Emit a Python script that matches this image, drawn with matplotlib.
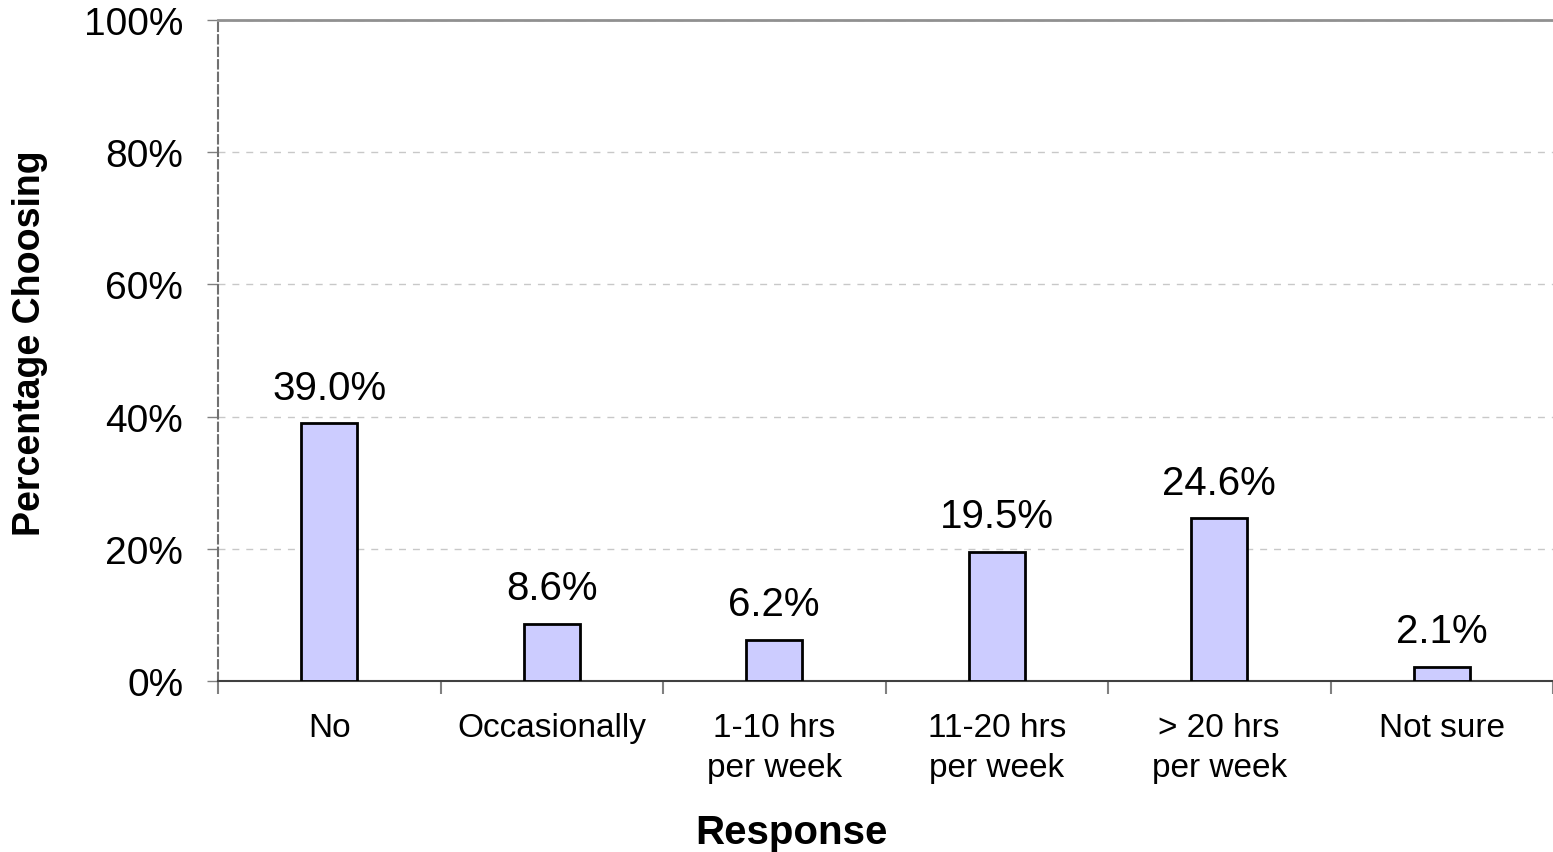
import matplotlib
matplotlib.use("Agg")
import matplotlib.pyplot as plt
import numpy as np

plt.rcParams['font.family'] = ['Liberation Sans', 'DejaVu Sans']

# data
categories = ['No', 'Occasionally', '1-10 hrs\nper week', '11-20 hrs\nper week',
              '> 20 hrs\nper week', 'Not sure']
values = [39.0, 8.6, 6.2, 19.5, 24.6, 2.1]
yticks = [0, 20, 40, 60, 80, 100]

fig = plt.figure(figsize=(15.53, 8.53), dpi=100)
ax = fig.add_axes([218 / 1553, 171 / 853, 1 - 218 / 1553, 661 / 853])

x = np.arange(len(categories))
ax.bar(x, values, width=0.25, color='#ccccff', edgecolor='black', linewidth=2, zorder=3)

for xi, v in zip(x, values):
    ax.annotate(f'{v:.1f}%', (xi, v), xytext=(0, 12), textcoords='offset points',
                ha='center', va='bottom', fontsize=29)

ax.set_xlim(-0.5, len(categories) - 0.5)
ax.set_ylim(0, 100)
ax.set_yticks(yticks)
ax.set_yticklabels([f'{t}%' for t in yticks], fontsize=28)
ax.yaxis.grid(True, linestyle=(0, (5, 5)), color='#c8c8c8', linewidth=1, zorder=0)

# category labels centred, ticks on the boundaries
ax.set_xticks(x)
ax.set_xticklabels(categories, fontsize=24, linespacing=1.4)
ax.tick_params(axis='x', length=0, pad=22)
ax.set_xticks(np.arange(len(categories) + 1) - 0.5, minor=True)
ax.tick_params(axis='x', which='minor', length=9, width=1.5, color='#808080')
ax.tick_params(axis='y', length=8, width=1, color='#808080', pad=17)

ax.spines['right'].set_visible(False)
ax.spines['top'].set_color('#909090')
ax.spines['top'].set_linewidth(2)
ax.spines['left'].set_color('#707070')
ax.spines['left'].set_linestyle((0, (4, 2)))
ax.spines['left'].set_linewidth(1.5)
ax.spines['bottom'].set_color('#404040')
ax.spines['bottom'].set_linewidth(1.5)

ax.set_xlabel('Response', fontsize=29, fontweight='bold')
ax.xaxis.set_label_coords((791 - 218) / (1553 - 218), -0.2, transform=ax.transAxes)
ax.set_ylabel('Percentage Choosing', fontsize=27, fontweight='bold')
ax.yaxis.set_label_coords(-(218 - 48) / (1553 - 218), (682 - 343) / 661, transform=ax.transAxes)

fig.savefig('out.png', dpi=100)
